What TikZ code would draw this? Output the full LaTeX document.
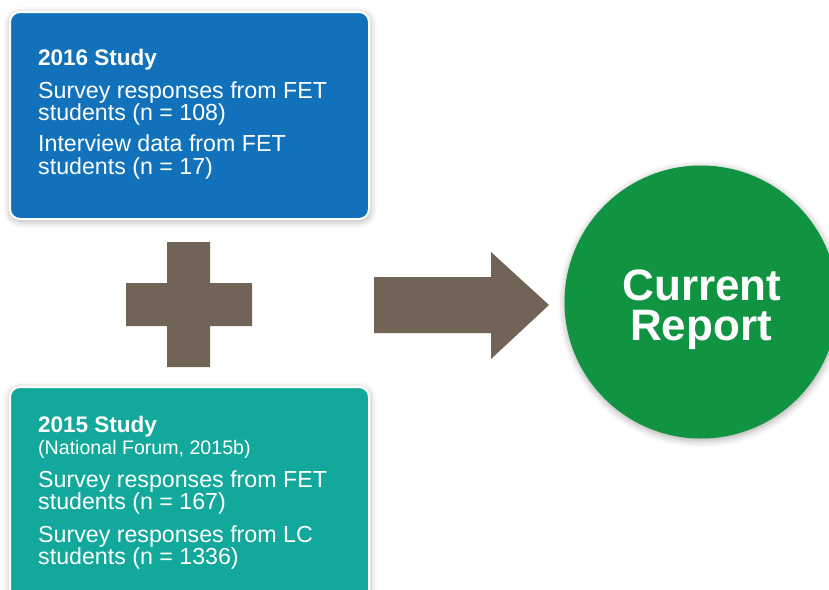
\documentclass[tikz,border=0pt]{standalone}
\usepackage{fontspec}
\setmainfont{Liberation Sans}
\usetikzlibrary{shadows.blur}
\definecolor{boxblue}{HTML}{1172BB}
\definecolor{boxteal}{HTML}{12A89B}
\definecolor{repgreen}{HTML}{109442}
\definecolor{signbrown}{HTML}{716456}
\tikzset{
  studybox/.style={draw=white, line width=2pt, rounded corners=10pt, anchor=north west,
    blur shadow={shadow xshift=0.5pt, shadow yshift=-2pt, shadow blur radius=7pt, shadow opacity=35}},
  txt/.style={anchor=base west, inner sep=0pt, text=white, font=\fontsize{23.2}{22}\selectfont},
  ttl/.style={txt, font=\fontsize{22.5}{22}\selectfont\bfseries},
  src/.style={txt, font=\fontsize{19.6}{19}\selectfont},
  rep/.style={anchor=base, inner sep=0pt, text=white, font=\fontsize{44}{40}\selectfont\bfseries},
  sign/.style={fill=signbrown},
}
\begin{document}
\begin{tikzpicture}[x=1pt,y=-1pt]
\useasboundingbox (0,0) rectangle (829,589);
% boxes
\node[studybox, fill=boxblue, minimum width=359pt, minimum height=207pt] (b2016) at (9,11) {};
\node[studybox, fill=boxteal, minimum width=359pt, minimum height=230pt] (b2015) at (9,386) {};
% top box text
\node[ttl] (t1) at (38,65) {2016 Study};
\node[txt] (t2) at (38,98) {Survey responses from FET};
\node[txt] (t3) at (38,120) {students (n = 108)};
\node[txt] (t4) at (38,151) {Interview data from FET};
\node[txt] (t5) at (38,174) {students (n = 17)};
% bottom box text
\node[ttl] (s1) at (38,432) {2015 Study};
\node[src] (s2) at (38,454) {(National Forum, 2015b)};
\node[txt] (s3) at (38,487) {Survey responses from FET};
\node[txt] (s4) at (38,509) {students (n = 167)};
\node[txt] (s5) at (38,542) {Survey responses from LC};
\node[txt] (s6) at (38,564) {students (n = 1336)};
% plus sign
\fill[sign] (167,242) -- (210,242) -- (210,283) -- (252,283) -- (252,326) -- (210,326)
  -- (210,367) -- (167,367) -- (167,326) -- (126,326) -- (126,283) -- (167,283) -- cycle;
% arrow
\fill[sign] (374,277) -- (491,277) -- (491,252) -- (549,305) -- (491,359) -- (491,333) -- (374,333) -- cycle;
% circle
\node[circle, fill=repgreen, minimum size=273pt, inner sep=0pt,
  blur shadow={shadow xshift=0.5pt, shadow yshift=-2pt, shadow blur radius=7pt, shadow opacity=35}] (report) at (701,302) {};
\node[rep] (r1) at (702,300) {Current};
\node[rep] (r2) at (701,340) {Report};
\end{tikzpicture}
\end{document}
